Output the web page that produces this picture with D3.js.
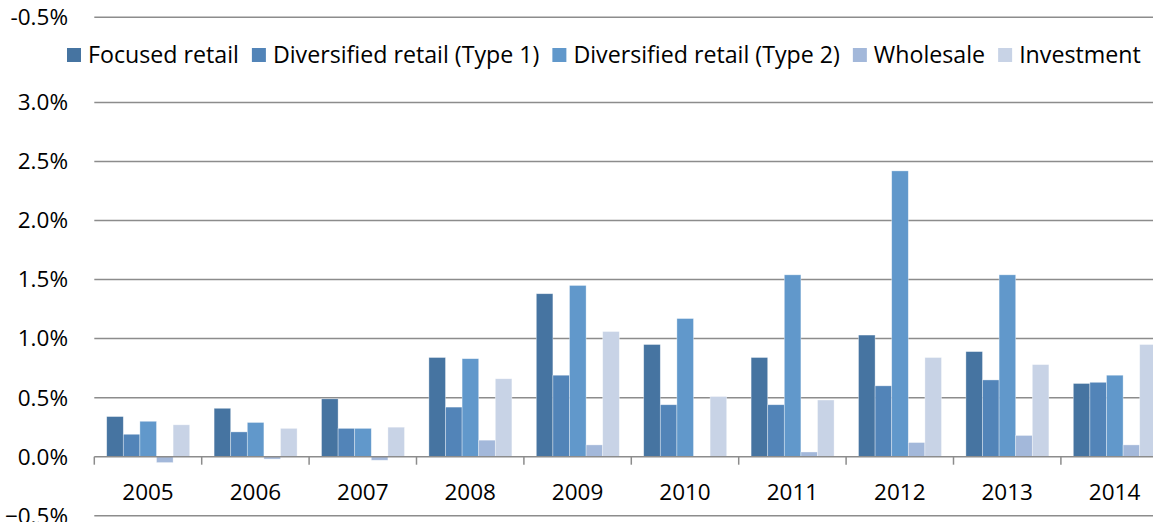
<!DOCTYPE html>
<html>
<head>
<meta charset="utf-8" />
<title>Bars by year</title>
<style>
html, body {
    margin: 0;
    padding: 0;
    background: #fff;
}
#chart {
    width: 1153px;
    height: 522px;
}
text {
    font-family: "Open Sans", sans-serif;
    fill: #000;
}
</style>
</head>
<body>
<div id="chart"></div>
<script src="https://d3js.org/d3.v7.min.js"></script>
<script>
!(function(){
    "use strict"

    var years = ["2005", "2006", "2007", "2008", "2009", "2010", "2011", "2012", "2013", "2014"]
    var seriesNames = ["Focused retail", "Diversified retail (Type 1)", "Diversified retail (Type 2)", "Wholesale", "Investment"]
    var seriesColors = ["#4674a1", "#5284b8", "#6198cb", "#a3b8da", "#c8d3e6"]

    // values in percent, one array per series
    var focused     = [0.34, 0.41, 0.49, 0.84, 1.38, 0.95, 0.84, 1.03, 0.89, 0.62]
    var diversified1 = [0.19, 0.21, 0.24, 0.42, 0.69, 0.44, 0.44, 0.60, 0.65, 0.63]
    var diversified2 = [0.30, 0.29, 0.24, 0.83, 1.45, 1.17, 1.54, 2.42, 1.54, 0.69]
    var wholesale   = [-0.05, -0.02, -0.03, 0.14, 0.10, 0.00, 0.04, 0.12, 0.18, 0.10]
    var investment  = [0.27, 0.24, 0.25, 0.66, 1.06, 0.51, 0.48, 0.84, 0.78, 0.95]

    var yTicks = [-0.5, 0, 0.5, 1.0, 1.5, 2.0, 2.5, 3.0]
    var topLineLabel = "-0.5%"

    var seriesValues = [focused, diversified1, diversified2, wholesale, investment]

    var width = 1153, height = 522
    var left = 94.3, catWidth = 107.4
    var fontSize = "22.5px"
    var svg = d3.select("#chart").append("svg")
        .attr("width", width).attr("height", height)

    var x0 = d3.scaleBand().domain(years).range([left, left + catWidth * years.length])
    var x1 = d3.scaleBand().domain(seriesNames).range([12.4, 95.4])
    var y = d3.scaleLinear().domain([0, 3.0]).range([456.7, 102.4])

    var fmt = function(d){ return d3.format(".1f")(d) + "%" }

    // gridlines
    var grid = svg.append("g").attr("class", "grid")
    grid.selectAll("line")
        .data(yTicks.filter(function(d){ return d !== 0 }))
        .enter().append("line")
        .attr("x1", left).attr("x2", width)
        .attr("y1", function(d){ return y(d) }).attr("y2", function(d){ return y(d) })
        .attr("stroke", "#8c8c8c").attr("stroke-width", 1.5)

    // stray top line (above legend)
    var topY = y(3.72)
    grid.append("line")
        .attr("x1", left).attr("x2", width)
        .attr("y1", topY).attr("y2", topY)
        .attr("stroke", "#8c8c8c").attr("stroke-width", 1.5)
    svg.append("text")
        .attr("x", 68).attr("y", topY).attr("dy", "0.35em")
        .attr("text-anchor", "end").attr("font-size", fontSize)
        .text(topLineLabel)

    // y labels
    svg.append("g").selectAll("text")
        .data(yTicks)
        .enter().append("text")
        .attr("x", 68).attr("y", function(d){ return y(d) }).attr("dy", "0.35em")
        .attr("text-anchor", "end").attr("font-size", fontSize)
        .text(fmt)

    // bars
    var groups = svg.append("g").selectAll("g")
        .data(years)
        .enter().append("g")
        .attr("transform", function(d){ return "translate(" + x0(d) + ",0)" })

    groups.selectAll("rect")
        .data(function(d, i){
            return seriesNames.map(function(s, k){ return { series: s, k: k, value: seriesValues[k][i] } })
        })
        .enter().append("rect")
        .attr("x", function(d){ return x1(d.series) })
        .attr("width", x1.bandwidth())
        .attr("y", function(d){ return Math.min(y(d.value), y(0)) })
        .attr("height", function(d){ return Math.abs(y(d.value) - y(0)) })
        .attr("fill", function(d){ return seriesColors[d.k] })
        .attr("stroke", "#ffffff").attr("stroke-opacity", 0.5).attr("stroke-width", 0.7)

    // x axis
    var xAxis = d3.axisBottom(x0).tickSizeInner(0).tickSizeOuter(0).tickPadding(0)
    var axisG = svg.append("g")
        .attr("transform", "translate(0," + y(0) + ")")
        .call(xAxis)
    axisG.select(".domain").remove()
    axisG.selectAll(".tick line").remove()
    axisG.selectAll("text")
        .attr("font-size", fontSize)
        .attr("fill", "#000")
        .attr("font-family", "'Open Sans', sans-serif")
        .attr("dy", null)
        .attr("y", 37)
        .attr("dominant-baseline", "middle")

    svg.append("line")
        .attr("x1", left).attr("x2", width)
        .attr("y1", y(0)).attr("y2", y(0))
        .attr("stroke", "#8c8c8c").attr("stroke-width", 1.5)
    svg.append("g").selectAll("line")
        .data(years)
        .enter().append("line")
        .attr("x1", function(d){ return x0(d) }).attr("x2", function(d){ return x0(d) })
        .attr("y1", y(0)).attr("y2", y(0) + 8)
        .attr("stroke", "#8c8c8c").attr("stroke-width", 1.5)

    // legend
    var legend = svg.append("g").attr("class", "legend")
    var lx = 67, ly = 55
    seriesNames.forEach(function(name, k){
        legend.append("rect")
            .attr("x", lx).attr("y", ly - 7)
            .attr("width", 14).attr("height", 14)
            .attr("fill", seriesColors[k])
        var t = legend.append("text")
            .attr("x", lx + 21).attr("y", ly).attr("dy", "0.35em")
            .attr("font-size", "23.2px")
            .text(name)
        lx += 21 + t.node().getComputedTextLength() + 13
    })
}());
</script>
</body>
</html>
